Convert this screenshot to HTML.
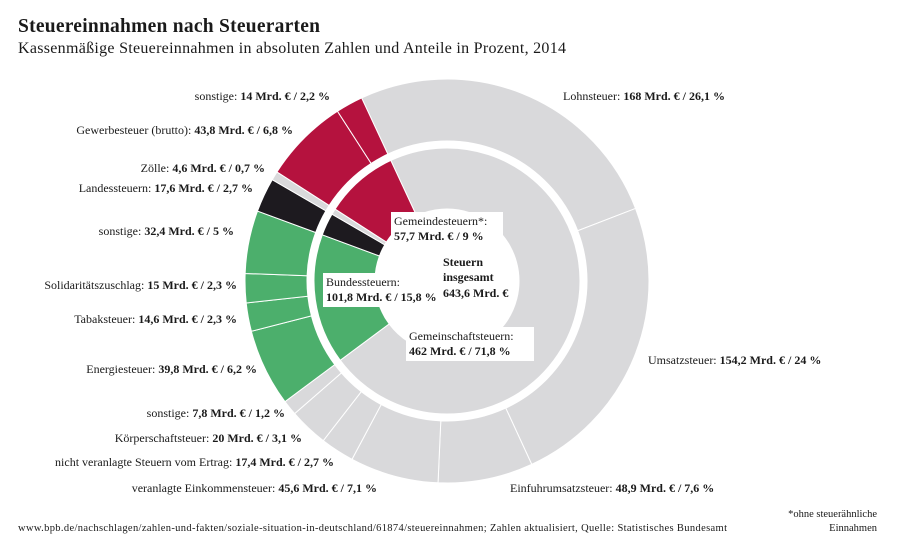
<!DOCTYPE html>
<html><head><meta charset="utf-8"><style>
html,body{margin:0;padding:0;background:#fff;}
svg{display:block;font-family:"Liberation Serif",serif;}
.lbl{font-size:12px;fill:#1a1a1a;}
.lbl tspan.b{font-weight:bold;}
</style></head><body>
<svg id="chart" width="900" height="553" viewBox="0 0 900 553">
<text x="18" y="32" font-size="19.5" font-weight="bold" fill="#1a1a1a" textLength="302">Steuereinnahmen nach Steuerarten</text>
<text x="18" y="53" font-size="16" fill="#1a1a1a" textLength="548">Kassenmäßige Steuereinnahmen in absoluten Zahlen und Anteile in Prozent, 2014</text>
<g id="rings"></g>
<g id="labels"></g>
<text x="18" y="531" font-size="10.5" fill="#1a1a1a" textLength="709">www.bpb.de/nachschlagen/zahlen-und-fakten/soziale-situation-in-deutschland/61874/steuereinnahmen; Zahlen aktualisiert, Quelle: Statistisches Bundesamt</text>
<text x="877" y="517" font-size="10.5" fill="#1a1a1a" text-anchor="end">*ohne steuerähnliche</text>
<text x="877" y="531" font-size="10.5" fill="#1a1a1a" text-anchor="end">Einnahmen</text>
</svg>
<script>
const outerNames=["Lohnsteuer","Umsatzsteuer","Einfuhrumsatzsteuer","veranlagte Einkommensteuer","nicht veranlagte Steuern vom Ertrag","Körperschaftsteuer","sonstige","Energiesteuer","Tabaksteuer","Solidaritätszuschlag","sonstige","Landessteuern","Zölle","Gewerbesteuer (brutto)","sonstige"];
const outerValues=[168,154.2,48.9,45.6,17.4,20,7.8,39.8,14.6,15,32.4,17.6,4.6,43.8,14];
const outerPct=["26,1","24","7,6","7,1","2,7","3,1","1,2","6,2","2,3","2,3","5","2,7","0,7","6,8","2,2"];
const outerGroup=["gem","gem","gem","gem","gem","gem","gem","bund","bund","bund","bund","land","zoll","gde","gde"];
const innerNames=["Gemeinschaftsteuern","Bundessteuern","Landessteuern","Zölle","Gemeindesteuern"];
const innerValues=[462,101.8,17.6,4.6,57.7];
const groupColors={gem:"#d9d9db",bund:"#4caf6c",land:"#1d1a1f",zoll:"#d9d9db",gde:"#b5123e"};
const innerGroup=["gem","bund","land","zoll","gde"];
const CX=447,CY=281,START=-25;
const NS="http://www.w3.org/2000/svg";
function pt(r,a){const t=a*Math.PI/180;return [CX+r*Math.sin(t),CY-r*Math.cos(t)];}
function arc(r0,r1,a0,a1){const p1=pt(r1,a0),p2=pt(r1,a1),p3=pt(r0,a1),p4=pt(r0,a0);const l=(a1-a0)>180?1:0;
return `M${p1[0]},${p1[1]}A${r1},${r1} 0 ${l} 1 ${p2[0]},${p2[1]}L${p3[0]},${p3[1]}A${r0},${r0} 0 ${l} 0 ${p4[0]},${p4[1]}Z`;}
function ring(vals,groups,r0,r1,names,key){
 const tot=vals.reduce((a,b)=>a+b,0);let a=START;const g=document.getElementById('rings');
 vals.forEach((v,i)=>{const s=v/tot*360;const p=document.createElementNS(NS,'path');
  p.setAttribute('d',arc(r0,r1,a,a+s));p.setAttribute('fill',groupColors[groups[i]]);
  p.setAttribute('stroke','#fff');p.setAttribute('stroke-width','1');
  
  
  g.appendChild(p);a+=s;});
}
ring(outerValues,outerGroup,140,202,outerNames,'outer');
ring(innerValues,innerGroup,72,133,innerNames,'inner');
const labelPos=[[563,100,"start"],[648,364,"start"],[510,492,"start"],[377,492,"end"],[334,466,"end"],[302,442,"end"],[285,417,"end"],[257,373,"end"],[237,323,"end"],[237,289,"end"],[234,235,"end"],[253,192,"end"],[265,172,"end"],[293,134,"end"],[330,100,"end"]];
const lg=document.getElementById('labels');
outerNames.forEach((n,i)=>{const t=document.createElementNS(NS,'text');const [x,y,an]=labelPos[i];
 t.setAttribute('x',x);t.setAttribute('y',y);t.setAttribute('text-anchor',an);t.setAttribute('class','lbl');
 
 
 const v=String(outerValues[i]).replace('.',',');
 t.innerHTML=`${n}: <tspan class="b">${v} Mrd. € / ${outerPct[i]} %</tspan>`;lg.appendChild(t);});
function box(x,y,w,h,l1,l2,name){const r=document.createElementNS(NS,'rect');r.setAttribute('x',x);r.setAttribute('y',y);r.setAttribute('width',w);r.setAttribute('height',h);r.setAttribute('fill','#fff');
 
 
 lg.appendChild(r);
 const t=document.createElementNS(NS,'text');t.setAttribute('class','lbl');
 
 
 t.innerHTML=`<tspan x="${x+3}" y="${y+13}">${l1}</tspan><tspan class="b" x="${x+3}" y="${y+28}">${l2}</tspan>`;lg.appendChild(t);}
box(391,212,112,34,"Gemeindesteuern*:","57,7 Mrd. € / 9 %","label-gemeindesteuern");
box(323,273,112,34,"Bundessteuern:","101,8 Mrd. € / 15,8 %","label-bundessteuern");
box(406,327,128,34,"Gemeinschaftsteuern:","462 Mrd. € / 71,8 %","label-gemeinschaftsteuern");
const c=document.createElementNS(NS,'text');c.setAttribute('class','lbl');c.setAttribute('font-weight','bold');


c.innerHTML='<tspan x="443" y="266">Steuern</tspan><tspan x="443" y="281">insgesamt</tspan><tspan x="443" y="297">643,6 Mrd. €</tspan>';lg.appendChild(c);
</script>
</body></html>
